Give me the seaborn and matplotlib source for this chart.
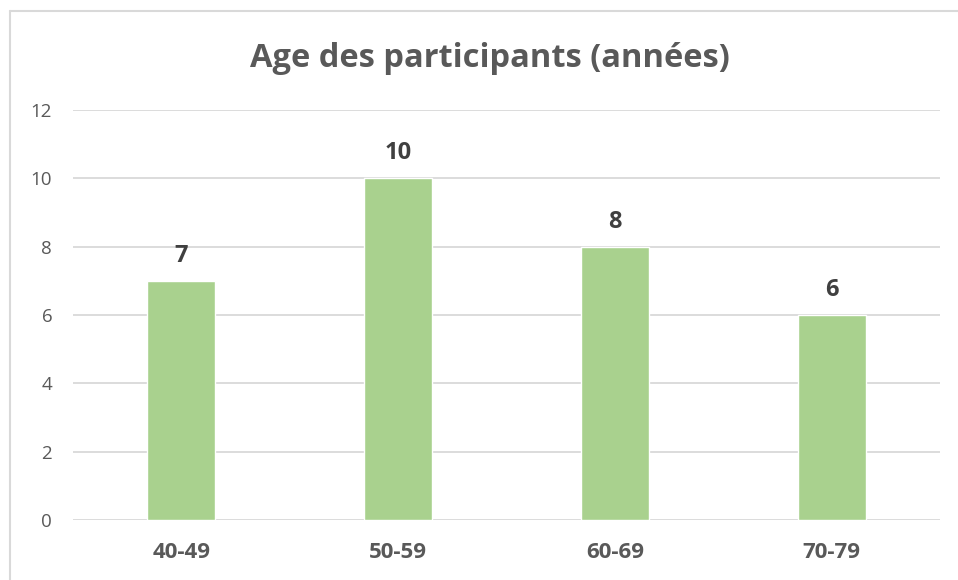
import matplotlib
matplotlib.use("Agg")
import matplotlib.pyplot as plt
import seaborn as sns
import pandas as pd
from matplotlib.lines import Line2D

categories = ["40-49", "50-59", "60-69", "70-79"]
values = [7, 10, 8, 6]
yticks = [0, 2, 4, 6, 8, 10, 12]
title = "Age des participants (années)"

sns.set_theme(style="white")
plt.rcParams['font.family'] = ['Open Sans', 'DejaVu Sans']

df = pd.DataFrame({"age": categories, "n": values})

W, H = 958, 580
fig = plt.figure(figsize=(W / 100, H / 100), dpi=100)
ax = fig.add_axes([73 / W, 1 - 520 / H, (940 - 73) / W, (520 - 110) / H])

sns.barplot(data=df, x="age", y="n", color="#A9D18E", width=0.314, ax=ax,
            saturation=1, zorder=3)

ax.set_ylim(0, 12)
ax.set_xlim(-0.5, len(categories) - 0.5)
ax.set_yticks(yticks)
ax.set_yticklabels([str(t) for t in yticks])
ax.yaxis.grid(True, color="#D9D9D9", linewidth=1.3, zorder=0)
ax.xaxis.grid(False)
ax.set_axisbelow(True)
for s in ax.spines.values():
    s.set_visible(False)
ax.tick_params(axis="y", length=0, pad=15, labelsize=13.5, labelcolor="#595959")
ax.tick_params(axis="x", length=0, pad=16, labelsize=16, labelcolor="#595959")
for lbl in ax.get_xticklabels():
    lbl.set_fontweight("bold")
ax.set_xlabel("")
ax.set_ylabel("")

for i, v in enumerate(values):
    ax.annotate(str(v), (i, v), xytext=(0, 13.7), textcoords="offset points",
                ha="center", va="baseline", fontsize=17, fontweight="bold",
                color="#404040")

fig.text(490 / W, 1 - 67 / H, title, ha="center", va="baseline",
         fontsize=23.5, fontweight="bold", color="#595959")

# chart border (top and left visible)
fig.add_artist(Line2D([9.5 / W, 1.0], [1 - 10.5 / H, 1 - 10.5 / H],
                      color="#D9D9D9", linewidth=1.5, transform=fig.transFigure))
fig.add_artist(Line2D([9.5 / W, 9.5 / W], [0, 1 - 10.5 / H],
                      color="#D9D9D9", linewidth=1.5, transform=fig.transFigure))

fig.savefig("out.png", dpi=100, facecolor="white")
